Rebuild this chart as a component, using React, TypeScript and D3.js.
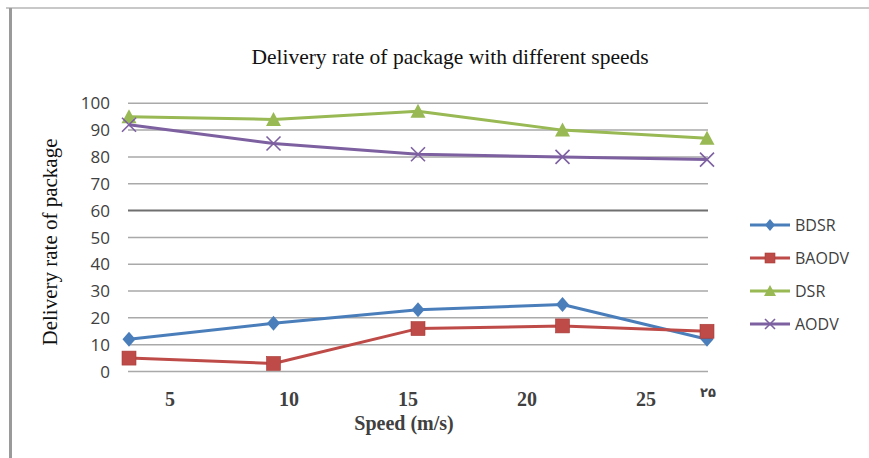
import React from "react";
import * as d3 from "d3";

const categories = ["s1", "s2", "s3", "s4", "s5"];
const xTickLabels = ["5", "10", "15", "20", "25"];
const extraXLabel = "۲۵";
const yTicks = [0, 10, 20, 30, 40, 50, 60, 70, 80, 90, 100];

const bdsr = [12, 18, 23, 25, 12];
const baodv = [5, 3, 16, 17, 15];
const dsr = [95, 94, 97, 90, 87];
const aodv = [92, 85, 81, 80, 79];

const seriesNames = ["BDSR", "BAODV", "DSR", "AODV"];
const seriesColors = ["#4a7ebb", "#be4b48", "#98b954", "#7d60a0"];
const seriesMarkers = ["diamond", "square", "triangle", "x"];

const W = 869;
const H = 458;

function Marker({ type, x, y, color, s }: { type: string; x: number; y: number; color: string; s: number }) {
  const h = s / 2;
  if (type === "diamond") {
    return <path d={`M${x},${y - h - 1}L${x + h},${y}L${x},${y + h + 1}L${x - h},${y}Z`} fill={color} />;
  }
  if (type === "square") {
    return <rect x={x - h} y={y - h} width={s} height={s} fill={color} stroke="#a83c39" strokeWidth={0.6} />;
  }
  if (type === "triangle") {
    return <path d={`M${x},${y - h - 1}L${x + h + 1},${y + h}L${x - h - 1},${y + h}Z`} fill={color} />;
  }
  return (
    <g stroke={color} strokeWidth={1.6}>
      <line x1={x - h} y1={y - h} x2={x + h} y2={y + h} />
      <line x1={x - h} y1={y + h} x2={x + h} y2={y - h} />
    </g>
  );
}

export default function App() {
  const x = d3.scalePoint<string>().domain(categories).range([129, 707]);
  const y = d3.scaleLinear().domain([0, 100]).range([371.5, 103.3]);
  const xl = d3.scalePoint<string>().domain(xTickLabels).range([170, 646]);
  const data = [bdsr, baodv, dsr, aodv];
  const line = d3
    .line<number>()
    .x((_, i) => x(categories[i]) as number)
    .y((d) => y(d));
  const markerSizes = [13, 14, 13, 14];
  const legendY = d3.scalePoint<string>().domain(seriesNames).range([225, 324]);

  return (
    <svg width={W} height={H} style={{ position: "absolute", left: 0, top: 0, background: "#fff" }}>
      <rect x={0} y={0} width={W} height={H} fill="#fff" />
      {/* frame */}
      <rect x={6} y={7} width={W - 6} height={2} fill="#c8c8c8" />
      <rect x={9} y={8} width={3} height={H - 8} fill="#9a9a9a" />

      <text
        x={450}
        y={64}
        textAnchor="middle"
        fontFamily="'Liberation Serif', 'Times New Roman', serif"
        fontSize={21.5}
        fill="#111"
      >
        Delivery rate of package with different speeds
      </text>

      {/* gridlines */}
      {yTicks.map((t) => (
        <line
          key={t}
          x1={128}
          x2={708}
          y1={y(t)}
          y2={y(t)}
          stroke={t === 60 ? "#6f6f6f" : "#a9a9a9"}
          strokeWidth={t === 60 ? 2 : 1.5}
        />
      ))}
      {yTicks.map((t) => (
        <text
          key={"l" + t}
          x={110}
          y={y(t)}
          dy="0.36em"
          textAnchor="end"
          fontFamily="'Open Sans', sans-serif"
          fontSize={17}
          fill="#404040"
        >
          {t}
        </text>
      ))}

      {/* y axis title */}
      <text
        transform="translate(57,242) rotate(-90)"
        textAnchor="middle"
        fontFamily="'Liberation Serif', 'Times New Roman', serif"
        fontSize={21}
        fill="#111"
      >
        Delivery rate of package
      </text>

      {/* x labels */}
      {xTickLabels.map((l) => (
        <text
          key={l}
          x={xl(l)}
          y={406}
          textAnchor="middle"
          fontFamily="'Liberation Serif', 'Times New Roman', serif"
          fontWeight="bold"
          fontSize={20}
          fill="#404040"
        >
          {l}
        </text>
      ))}
      <text
        x={708}
        y={397}
        textAnchor="middle"
        fontFamily="'DejaVu Sans', sans-serif"
        fontWeight="bold"
        fontSize={13}
        fill="#404040"
      >
        {extraXLabel}
      </text>
      <text
        x={404}
        y={430}
        textAnchor="middle"
        fontFamily="'Liberation Serif', 'Times New Roman', serif"
        fontWeight="bold"
        fontSize={20}
        fill="#404040"
      >
        Speed (m/s)
      </text>

      {/* series */}
      {data.map((vals, si) => (
        <g key={seriesNames[si]}>
          <path d={line(vals) || ""} fill="none" stroke={seriesColors[si]} strokeWidth={3} strokeLinejoin="round" />
          {vals.map((v, i) => (
            <Marker
              key={i}
              type={seriesMarkers[si]}
              x={x(categories[i]) as number}
              y={y(v)}
              color={seriesColors[si]}
              s={markerSizes[si]}
            />
          ))}
        </g>
      ))}

      {/* legend */}
      {seriesNames.map((n, si) => {
        const ly = legendY(n) as number;
        return (
          <g key={"lg" + n}>
            <line x1={750} x2={790} y1={ly} y2={ly} stroke={seriesColors[si]} strokeWidth={3} />
            <Marker type={seriesMarkers[si]} x={770} y={ly} color={seriesColors[si]} s={10} />
            <text x={795} y={ly} dy="0.36em" fontFamily="'Open Sans', sans-serif" fontSize={16} fill="#404040">
              {n}
            </text>
          </g>
        );
      })}
    </svg>
  );
}
